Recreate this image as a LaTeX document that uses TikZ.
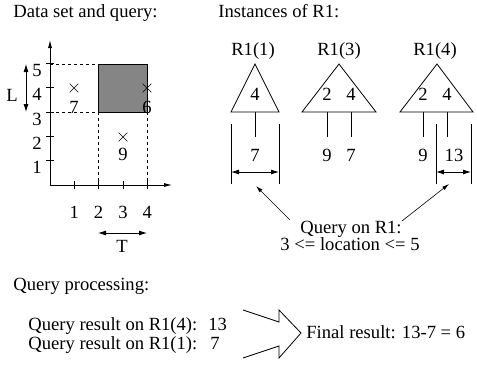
\documentclass[tikz,border=0pt]{standalone}
\usepackage{fontspec}
\setmainfont{Liberation Serif}
\usetikzlibrary{arrows.meta,shapes.misc}
\definecolor{qgray}{HTML}{858585}
\tikzset{
  lbl/.style={inner sep=0pt, anchor=base},
  xmark/.style={cross out, draw, minimum size=8pt, inner sep=0pt, line width=0.7pt},
  dimarrow/.style={{Latex[length=8pt,width=5pt]}-{Latex[length=8pt,width=5pt]}},
  axis/.style={-{Latex[length=8pt,width=4pt]}},
  guide/.style={dash pattern=on 3pt off 3pt, line width=0.7pt},
}

\begin{document}
\begin{tikzpicture}[x=1pt,y=-1pt,line width=0.8pt,font=\fontsize{18.6}{22}\selectfont]
  \useasboundingbox (0,0) rectangle (477,367);

  % data set and query
  \node[lbl,anchor=base west] (dtitle) at (13,17) {Data set and query:};
  \coordinate (o) at (50,185);
  \coordinate (ytop) at (50,40);
  \coordinate (xend) at (172,185);
  \coordinate (q1) at (98,64);
  \coordinate (q2) at (147,112);
  \fill[qgray] (q1) rectangle (q2);
  \draw (q1) rectangle (q2);
  \draw[guide] (50,64) -- (q1);
  \draw[guide] (50,112) -- (98,112);
  \draw[guide] (98,112) -- (98,185);
  \draw[guide] (q2) -- (147,185);
  \draw[axis] (o) -- (ytop);
  \draw[axis] (o) -- (xend);
  \foreach \i in {1,...,4} {
    \draw (50+24.3*\i,181) -- (50+24.3*\i,189);
    \node[lbl] (xl\i) at (50+24.3*\i,218) {\i};
  }
  \foreach \i in {1,...,5} {
    \draw (46,185-24.3*\i) -- (54,185-24.3*\i);
    \node[lbl] (yl\i) at (37,198-24.3*\i) {\i};
  }
  \coordinate (la) at (26,64);
  \coordinate (lb) at (26,112);
  \draw[dimarrow] (la) -- (lb);
  \node[lbl] (L) at (12,101) {L};
  \coordinate (ta) at (98,233);
  \coordinate (tb) at (147,233);
  \draw[dimarrow] (ta) -- (tb);
  \node[lbl] (T) at (122,252) {T};
  \node[xmark] (p7) at (74,88) {};
  \node[xmark] (p6) at (147,88) {};
  \node[xmark] (p9) at (123,137) {};
  \node[lbl] (v7) at (74,113) {7};
  \node[lbl] (v6) at (147,113) {6};
  \node[lbl] (v9) at (123,160) {9};

  % instances of R1
  \node[lbl,anchor=base west] (ititle) at (218,17) {Instances of R1:};
  \node[lbl] (r1) at (253,55) {R1(1)};
  \node[lbl] (r3) at (339,55) {R1(3)};
  \node[lbl] (r4) at (435,55) {R1(4)};
  % R1(1)
  \draw (255,64) -- (279,112) -- (231,112) -- cycle;
  \node[lbl] (a4) at (255,100) {4};
  \draw (255,112) -- (255,137);
  \node[lbl] (a7) at (255,161) {7};
  \coordinate (al) at (231,172);
  \coordinate (ar) at (279,172);
  \draw (231,124) -- (231,184);
  \draw (279,124) -- (279,184);
  \draw[dimarrow] (al) -- (ar);
  % R1(3)
  \draw (339,64) -- (376,112) -- (302,112) -- cycle;
  \node[lbl] (b2) at (327,100) {2};
  \node[lbl] (b4) at (351,100) {4};
  \draw (327,112) -- (327,137);
  \draw (351,112) -- (351,137);
  \node[lbl] (b9) at (327,161) {9};
  \node[lbl] (b7) at (351,161) {7};
  % R1(4)
  \draw (437,64) -- (473,112) -- (400,112) -- cycle;
  \node[lbl] (c2) at (423,100) {2};
  \node[lbl] (c4) at (447,100) {4};
  \draw (423,112) -- (423,137);
  \draw (447,112) -- (447,137);
  \node[lbl] (c9) at (423,161) {9};
  \node[lbl] (c13) at (454,161) {13};
  \coordinate (cl) at (436,172);
  \coordinate (cr) at (471,172);
  \draw (436,124) -- (436,184);
  \draw (471,124) -- (471,184);
  \draw[dimarrow] (cl) -- (cr);

  % query on R1
  \node[lbl] (qry) at (351,233) {Query on R1:};
  \node[lbl] (qcond) at (350,250) {3 <= location <= 5};
  \coordinate (qa) at (290,220);
  \coordinate (qb) at (402,221);
  \coordinate (qc) at (256,186);
  \coordinate (qd) at (449,184);
  \draw[-{Latex[length=7pt,width=4pt]},line width=0.6pt] (qa) -- (qc);
  \draw[-{Latex[length=7pt,width=4pt]},line width=0.6pt] (qb) -- (qd);

  % query processing
  \node[lbl,anchor=base west] (ptitle) at (13,290) {Query processing:};
  \node[lbl,anchor=base west] (res4) at (28,330) {Query result on R1(4):};
  \node[lbl,anchor=base west] (res4v) at (208,330) {13};
  \node[lbl,anchor=base west] (res1) at (28,349) {Query result on R1(1):};
  \node[lbl,anchor=base west] (res1v) at (210,349) {7};
  \draw (243,310) -- (279,322) -- (279,310) -- (301,333) -- (279,358) -- (279,346) -- (243,358);
  \node[lbl,anchor=base west] (final) at (306,338) {Final result: 13-7 = 6};
\end{tikzpicture}
\end{document}
